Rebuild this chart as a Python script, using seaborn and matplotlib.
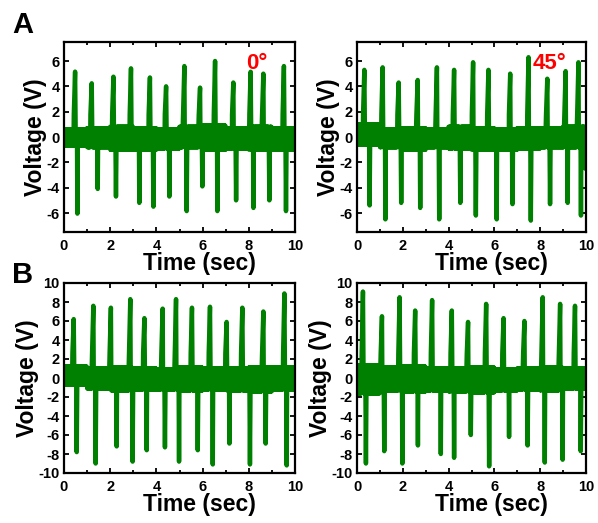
import numpy as np
import pandas as pd
import matplotlib
matplotlib.use("Agg")
import matplotlib.pyplot as plt
import seaborn as sns
from matplotlib.ticker import MultipleLocator

# ---------------- data ----------------
# Panel A, 0 degrees
a0_pos_t = [0.48, 1.20, 2.14, 2.90, 3.72, 4.42, 5.21, 5.89, 6.54, 7.33, 8.08, 8.63, 9.52]
a0_pos_v = [5.16, 4.24, 4.76, 5.42, 4.70, 4.00, 5.60, 3.90, 6.00, 4.30, 5.15, 5.00, 5.60]
a0_neg_t = [0.58, 1.46, 2.25, 3.26, 3.87, 4.56, 5.31, 5.99, 6.64, 7.45, 8.20, 8.89, 9.61]
a0_neg_v = [-6.05, -4.10, -4.70, -5.20, -5.50, -4.70, -5.85, -3.90, -5.85, -5.00, -5.60, -5.00, -5.85]
a0_hi = [0.6, 0.7, 0.8, 0.7, 0.6, 0.8, 0.9, 0.7, 0.8, 0.7]
a0_lo = [-0.7, -0.8, -1.0, -1.0, -0.9, -0.8, -1.0, -0.9, -1.0, -1.0]

# Panel A, 45 degrees
a45_pos_t = [0.32, 1.12, 1.82, 2.65, 3.49, 4.24, 5.07, 5.74, 6.69, 7.49, 8.31, 9.11, 9.67]
a45_pos_v = [5.30, 5.50, 4.30, 4.50, 5.50, 5.30, 5.90, 5.30, 5.00, 6.30, 4.60, 5.20, 5.90]
a45_neg_t = [0.55, 1.24, 1.93, 2.76, 3.59, 4.51, 5.19, 6.10, 6.79, 7.59, 8.43, 9.20, 9.78, 9.97]
a45_neg_v = [-5.40, -6.50, -5.20, -5.60, -6.50, -5.20, -6.20, -6.50, -5.30, -6.60, -5.30, -5.20, -6.20, -2.50]
a45_hi = [1.0, 0.6, 0.7, 0.6, 0.8, 0.7, 0.6, 0.7, 0.7, 0.8]
a45_lo = [-0.6, -0.8, -1.0, -0.8, -0.9, -1.0, -1.0, -0.9, -0.8, -0.8]

# Panel B, left
bl_pos_t = [0.42, 1.27, 2.03, 2.87, 3.48, 4.27, 4.85, 5.54, 6.32, 7.04, 7.72, 8.63, 9.54]
bl_pos_v = [6.2, 7.6, 7.4, 8.3, 6.3, 7.3, 8.3, 7.4, 7.5, 5.9, 7.4, 7.0, 8.9]
bl_neg_t = [0.55, 1.37, 2.28, 2.97, 3.58, 4.37, 4.98, 5.79, 6.44, 7.16, 8.05, 8.73, 9.64]
bl_neg_v = [-7.8, -9.0, -7.2, -8.8, -7.6, -7.3, -8.8, -7.6, -9.1, -6.9, -9.1, -6.9, -9.2]
bl_hi = [1.2, 1.0, 1.1, 1.0, 0.9, 1.1, 1.0, 1.0, 1.1, 1.1]
bl_lo = [-0.7, -1.1, -1.3, -1.2, -1.2, -1.3, -1.2, -1.3, -1.4, -1.2]

# Panel B, right
br_pos_t = [0.26, 1.09, 1.86, 2.54, 3.28, 4.14, 4.85, 5.64, 6.40, 7.31, 8.11, 8.87, 9.52]
br_pos_v = [9.1, 6.5, 8.5, 7.1, 8.2, 7.1, 5.9, 7.8, 6.3, 6.0, 8.5, 7.8, 7.6]
br_neg_t = [0.39, 1.19, 1.98, 2.66, 3.66, 4.24, 4.97, 5.77, 6.64, 7.45, 8.20, 8.98, 9.77]
br_neg_v = [-9.0, -7.7, -9.0, -7.1, -8.0, -8.4, -6.0, -9.3, -6.2, -7.1, -8.9, -8.6, -7.7]
br_hi = [1.3, 1.1, 1.2, 1.0, 1.0, 1.1, 0.9, 1.0, 1.1, 1.0]
br_lo = [-1.6, -1.3, -1.4, -1.3, -1.4, -1.5, -1.3, -1.2, -1.3, -1.1]

shoulder_a = 1.8
shoulder_b = 2.6

angle_labels = ["0°", "45°"]
x_ticks = [0, 2, 4, 6, 8, 10]
ya_ticks = [-6, -4, -2, 0, 2, 4, 6]
yb_ticks = [-10, -8, -6, -4, -2, 0, 2, 4, 6, 8, 10]


def build(pos_t, pos_v, neg_t, neg_v, hi, lo, shoulder):
    pts = []
    n = 1000
    for i in range(n + 1):
        t = i / 100.0
        if any(tp - 0.06 <= t <= tp + 0.015 for tp in pos_t):
            continue
        if any(abs(t - tn) <= 0.015 for tn in neg_t):
            continue
        seg = min(int(t), 9)
        v = hi[seg] if i % 2 == 0 else lo[seg]
        pts.append((t, v))
    for tp, vp in zip(pos_t, pos_v):
        pts.append((tp - 0.055, shoulder))
        pts.append((tp, vp))
    for tn, vn in zip(neg_t, neg_v):
        pts.append((tn, vn))
    pts.sort()
    return pd.DataFrame(pts, columns=["t", "v"])


sns.set_style("ticks")
plt.rcParams["font.family"] = ["Liberation Sans", "DejaVu Sans"]
plt.rcParams["font.weight"] = "bold"
plt.rcParams["axes.labelweight"] = "bold"
for k in ["text.color", "axes.labelcolor", "xtick.color", "ytick.color", "axes.edgecolor"]:
    plt.rcParams[k] = "black"

W, H = 598, 523
fig = plt.figure(figsize=(W / 100, H / 100), dpi=100)


def make_axes(l, r, t, b):
    return fig.add_axes([l / W, 1 - b / H, (r - l) / W, (b - t) / H])


panels = [
    (make_axes(64, 295, 42, 232), build(a0_pos_t, a0_pos_v, a0_neg_t, a0_neg_v, a0_hi, a0_lo, shoulder_a), (-7.5, 7.5), ya_ticks, angle_labels[0], 7.9),
    (make_axes(357, 586, 42, 232), build(a45_pos_t, a45_pos_v, a45_neg_t, a45_neg_v, a45_hi, a45_lo, shoulder_a), (-7.5, 7.5), ya_ticks, angle_labels[1], 7.65),
    (make_axes(64, 295, 283, 473), build(bl_pos_t, bl_pos_v, bl_neg_t, bl_neg_v, bl_hi, bl_lo, shoulder_b), (-10, 10), yb_ticks, None, None),
    (make_axes(357, 586, 283, 473), build(br_pos_t, br_pos_v, br_neg_t, br_neg_v, br_hi, br_lo, shoulder_b), (-10, 10), yb_ticks, None, None),
]

for ax, df, ylim, yt, lab, lx in panels:
    sns.lineplot(data=df, x="t", y="v", ax=ax, sort=False, estimator=None,
                 color="#008000", lw=3.2, legend=False)
    ax.set_xlim(0, 10)
    ax.set_ylim(*ylim)
    ax.set_xticks(x_ticks)
    ax.set_yticks(yt)
    ax.set_xticklabels([str(v) for v in x_ticks])
    ax.set_yticklabels([str(v) for v in yt])
    ax.xaxis.set_minor_locator(MultipleLocator(1))
    ax.tick_params(which="both", direction="in", top=True, right=True,
                   width=1.3, length=3.5, labelsize=10.5, colors="black")
    ax.tick_params(axis="x", which="major", pad=5)
    ax.tick_params(axis="y", which="major", pad=3)
    ax.tick_params(which="minor", length=2.5)
    for lbl in ax.get_xticklabels() + ax.get_yticklabels():
        lbl.set_fontweight("bold")
    for s in ax.spines.values():
        s.set_linewidth(1.6)
        s.set_color("black")
    ax.set_xlabel("Time (sec)", fontsize=16.5, fontweight="bold", labelpad=0)
    ax.set_ylabel("Voltage (V)", fontsize=16.5, fontweight="bold", labelpad=0)
    ax.xaxis.set_label_coords(0.587, -0.105)
    if lab is not None:
        ax.text(lx, 5.8, lab, color="red", fontsize=16, fontweight="bold",
                ha="left", va="center")

fig.text(12 / W, 1 - 25 / H, "A", fontsize=21, fontweight="bold", ha="left", va="center")
fig.text(12 / W, 1 - 275 / H, "B", fontsize=21, fontweight="bold", ha="left", va="center")

fig.savefig("out.png", dpi=100)
